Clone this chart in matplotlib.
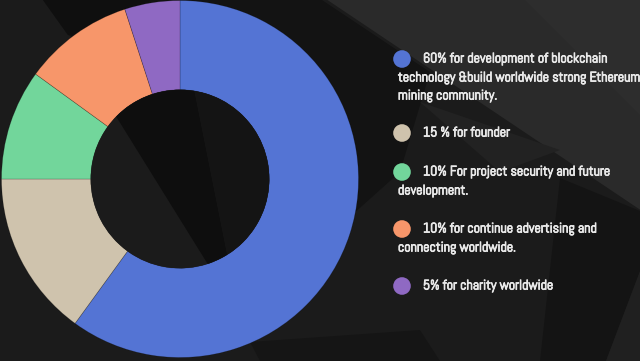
import matplotlib
matplotlib.use("Agg")
from matplotlib import pyplot as plt
from matplotlib.patches import Polygon, Circle
import matplotlib.patheffects as pe

# data
shares = [60, 15, 10, 10, 5]
colours = ["#5474d4", "#cfc3ad", "#72d69b", "#f7966a", "#8f69c3"]
labels = [
    "60% for development of blockchain\ntechnology &build worldwide strong Ethereum\nmining community.",
    "15 % for founder",
    "10% For project security and future\ndevelopment.",
    "10% for continue advertising and\nconnecting worldwide.",
    "5% for charity worldwide",
]
label_rows = [59, 133, 172, 229, 286]

FONT = ["Abel", "DejaVu Sans"]
TXT = "#e8e8e8"
W, H = 640, 361
fig = plt.figure(figsize=(W / 100, H / 100), dpi=100)
fig.patch.set_facecolor("#1b1b1b")

# background facets (pixel coords, y down)
bg = fig.add_axes([0, 0, 1, 1])
bg.set_xlim(0, W)
bg.set_ylim(H, 0)
bg.axis("off")
facets = [
    ([(43, 0), (322, 0), (430, 72), (400, 172), (352, 215), (200, 100), (68, 35)], "#131313"),
    ([(43, 0), (150, 0), (130, 40), (68, 35)], "#0f0f0f"),
    ([(320, -5), (645, -5), (645, 213)], "#2a2a2a"),
    ([(520, -5), (645, -5), (645, 120)], "#2d2d2d"),
    ([(420, 102), (560, 150), (500, 172)], "#222222"),
    ([(560, 178), (645, 213), (645, 258), (606, 361), (540, 361)], "#141414"),
    ([(645, 258), (645, 361), (606, 361)], "#202020"),
    ([(250, 342), (420, 330), (440, 361), (260, 361)], "#151515"),
]
for pts, c in facets:
    bg.add_patch(Polygon(pts, closed=True, facecolor=c, edgecolor="none", zorder=0))

# legend
stroke = [pe.withStroke(linewidth=0.6, foreground=TXT)]
for (lab, y, c) in zip(labels, label_rows, colours):
    bg.add_patch(Circle((402, y), 8.8, facecolor=c, edgecolor="none", zorder=2))
    lines = lab.split("\n")
    bg.text(423, y, lines[0], color=TXT, fontsize=10, va="center", ha="left",
            family=FONT, zorder=3, path_effects=stroke)
    for k, ln in enumerate(lines[1:]):
        bg.text(398, y + 19 * (k + 1) - (1 if k else 0), ln, color=TXT, fontsize=10,
                va="center", ha="left", family=FONT, zorder=3, path_effects=stroke)

# donut
cx, cy, r = 180, 179, 178.5
box = [(cx - r) / W, (H - cy - r) / H, 2 * r / W, 2 * r / H]
ax = fig.add_axes(box)
ax.set_facecolor("none")
ax.pie(shares, colors=colours, startangle=90, counterclock=False,
       wedgeprops=dict(width=0.5, edgecolor="#00000040", linewidth=0.5))
ax.set_xlim(-1, 1)
ax.set_ylim(-1, 1)
ax.axis("off")

# dark facets seen through the hole
hole = fig.add_axes(box)
hole.set_xlim(-1, 1)
hole.set_ylim(-1, 1)
hole.axis("off")
clip = Circle((0, 0), 0.5, transform=hole.transData)
for pts, c in [([(-1, -1), (1, -1), (1, 1), (-1, 1)], "#1b1b1b"),
               ([(-0.575, 0.7), (0.04, 0.7), (0.32, -0.7), (0.294, -0.7)], "#0e0e0e"),
               ([(0.04, 0.7), (1, 0.7), (1, -1), (0.32, -0.7)], "#141414")]:
    p = Polygon(pts, closed=True, facecolor=c, edgecolor="none")
    hole.add_patch(p)
    p.set_clip_path(clip)

fig.savefig("out.png", dpi=100, facecolor=fig.get_facecolor())
